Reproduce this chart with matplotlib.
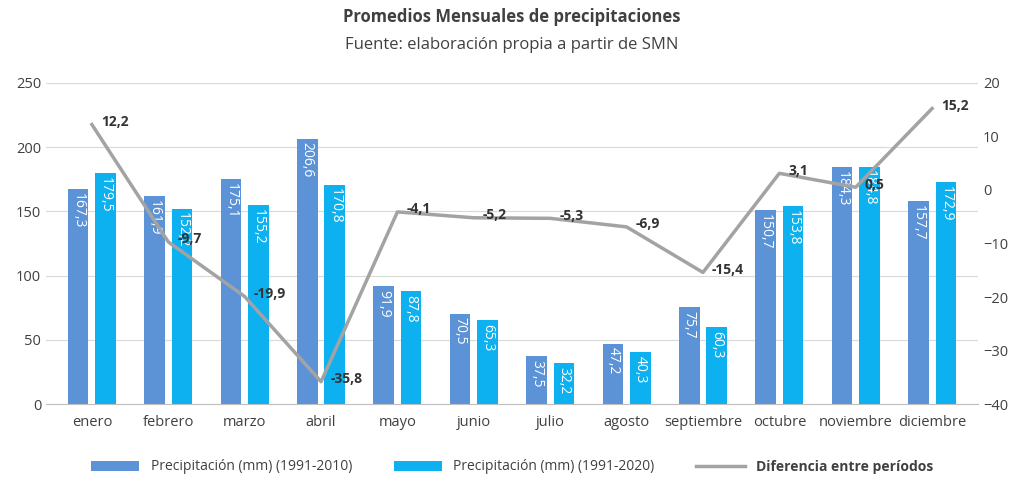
import matplotlib.pyplot as plt
import numpy as np

plt.rcParams["font.family"] = ["Open Sans", "DejaVu Sans"]

meses = ["enero", "febrero", "marzo", "abril", "mayo", "junio", "julio",
         "agosto", "septiembre", "octubre", "noviembre", "diciembre"]
prec_2010 = [167.3, 161.9, 175.1, 206.6, 91.9, 70.5, 37.5, 47.2, 75.7, 150.7, 184.3, 157.7]
prec_2020 = [179.5, 152.2, 155.2, 170.8, 87.8, 65.3, 32.2, 40.3, 60.3, 153.8, 184.8, 172.9]
diferencia = [12.2, -9.7, -19.9, -35.8, -4.1, -5.2, -5.3, -6.9, -15.4, 3.1, 0.5, 15.2]


def fmt(v):
    return f"{v:.1f}".replace(".", ",")


fig, ax = plt.subplots(figsize=(10.24, 4.87), dpi=100)
fig.subplots_adjust(left=0.045, right=0.955, top=0.83, bottom=0.17)

x = np.arange(len(meses))
w = 0.27
b1 = ax.bar(x - 0.18, prec_2010, w, color="#5b93d6", label="Precipitación (mm) (1991-2010)")
b2 = ax.bar(x + 0.18, prec_2020, w, color="#0db1ef", label="Precipitación (mm) (1991-2020)")
for bars, vals in ((b1, prec_2010), (b2, prec_2020)):
    for bar, v in zip(bars, vals):
        ax.text(bar.get_x() + bar.get_width() / 2, v - 3, fmt(v), rotation=-90,
                ha="center", va="top", color="white", fontsize=10)

ax.set_ylim(0, 250)
ax.set_yticks(range(0, 251, 50))
ax.set_xlim(-0.6, 11.6)
ax.set_xticks(x)
ax.set_xticklabels(meses)
ax.grid(axis="y", color="#d9d9d9", linewidth=0.8)
ax.set_axisbelow(True)
for s in ["top", "left", "right"]:
    ax.spines[s].set_visible(False)
ax.spines["bottom"].set_color("#bfbfbf")
ax.tick_params(length=0, labelsize=10.5, colors="#404040")
ax.tick_params(axis="x", pad=8)

ax2 = ax.twinx()
ln, = ax2.plot(x, diferencia, color="#a3a3a3", linewidth=2.5, label="Diferencia entre períodos")
for xi, v in zip(x, diferencia):
    ax2.text(xi + 0.12, v + 0.5, fmt(v), ha="left", va="center",
             fontsize=10, fontweight="bold", color="#333333")
ax2.set_ylim(-40, 20)
ax2.set_yticks(range(-40, 21, 10))
for s in ax2.spines.values():
    s.set_visible(False)
ax2.tick_params(length=0, labelsize=10.5, colors="#404040")

fig.text(0.5, 0.955, "Promedios Mensuales de precipitaciones", ha="center",
         fontsize=12, fontweight="bold", color="#404040")
fig.text(0.5, 0.9, "Fuente: elaboración propia a partir de SMN", ha="center",
         fontsize=12, color="#404040")

leg = fig.legend(handles=[b1, b2, ln], loc="lower center", ncol=3, frameon=False,
                 bbox_to_anchor=(0.5, 0.0), fontsize=10, handlelength=3.5, columnspacing=3)
leg.get_texts()[2].set_fontweight("bold")
for t in leg.get_texts():
    t.set_color("#404040")

fig.savefig("out.png")
